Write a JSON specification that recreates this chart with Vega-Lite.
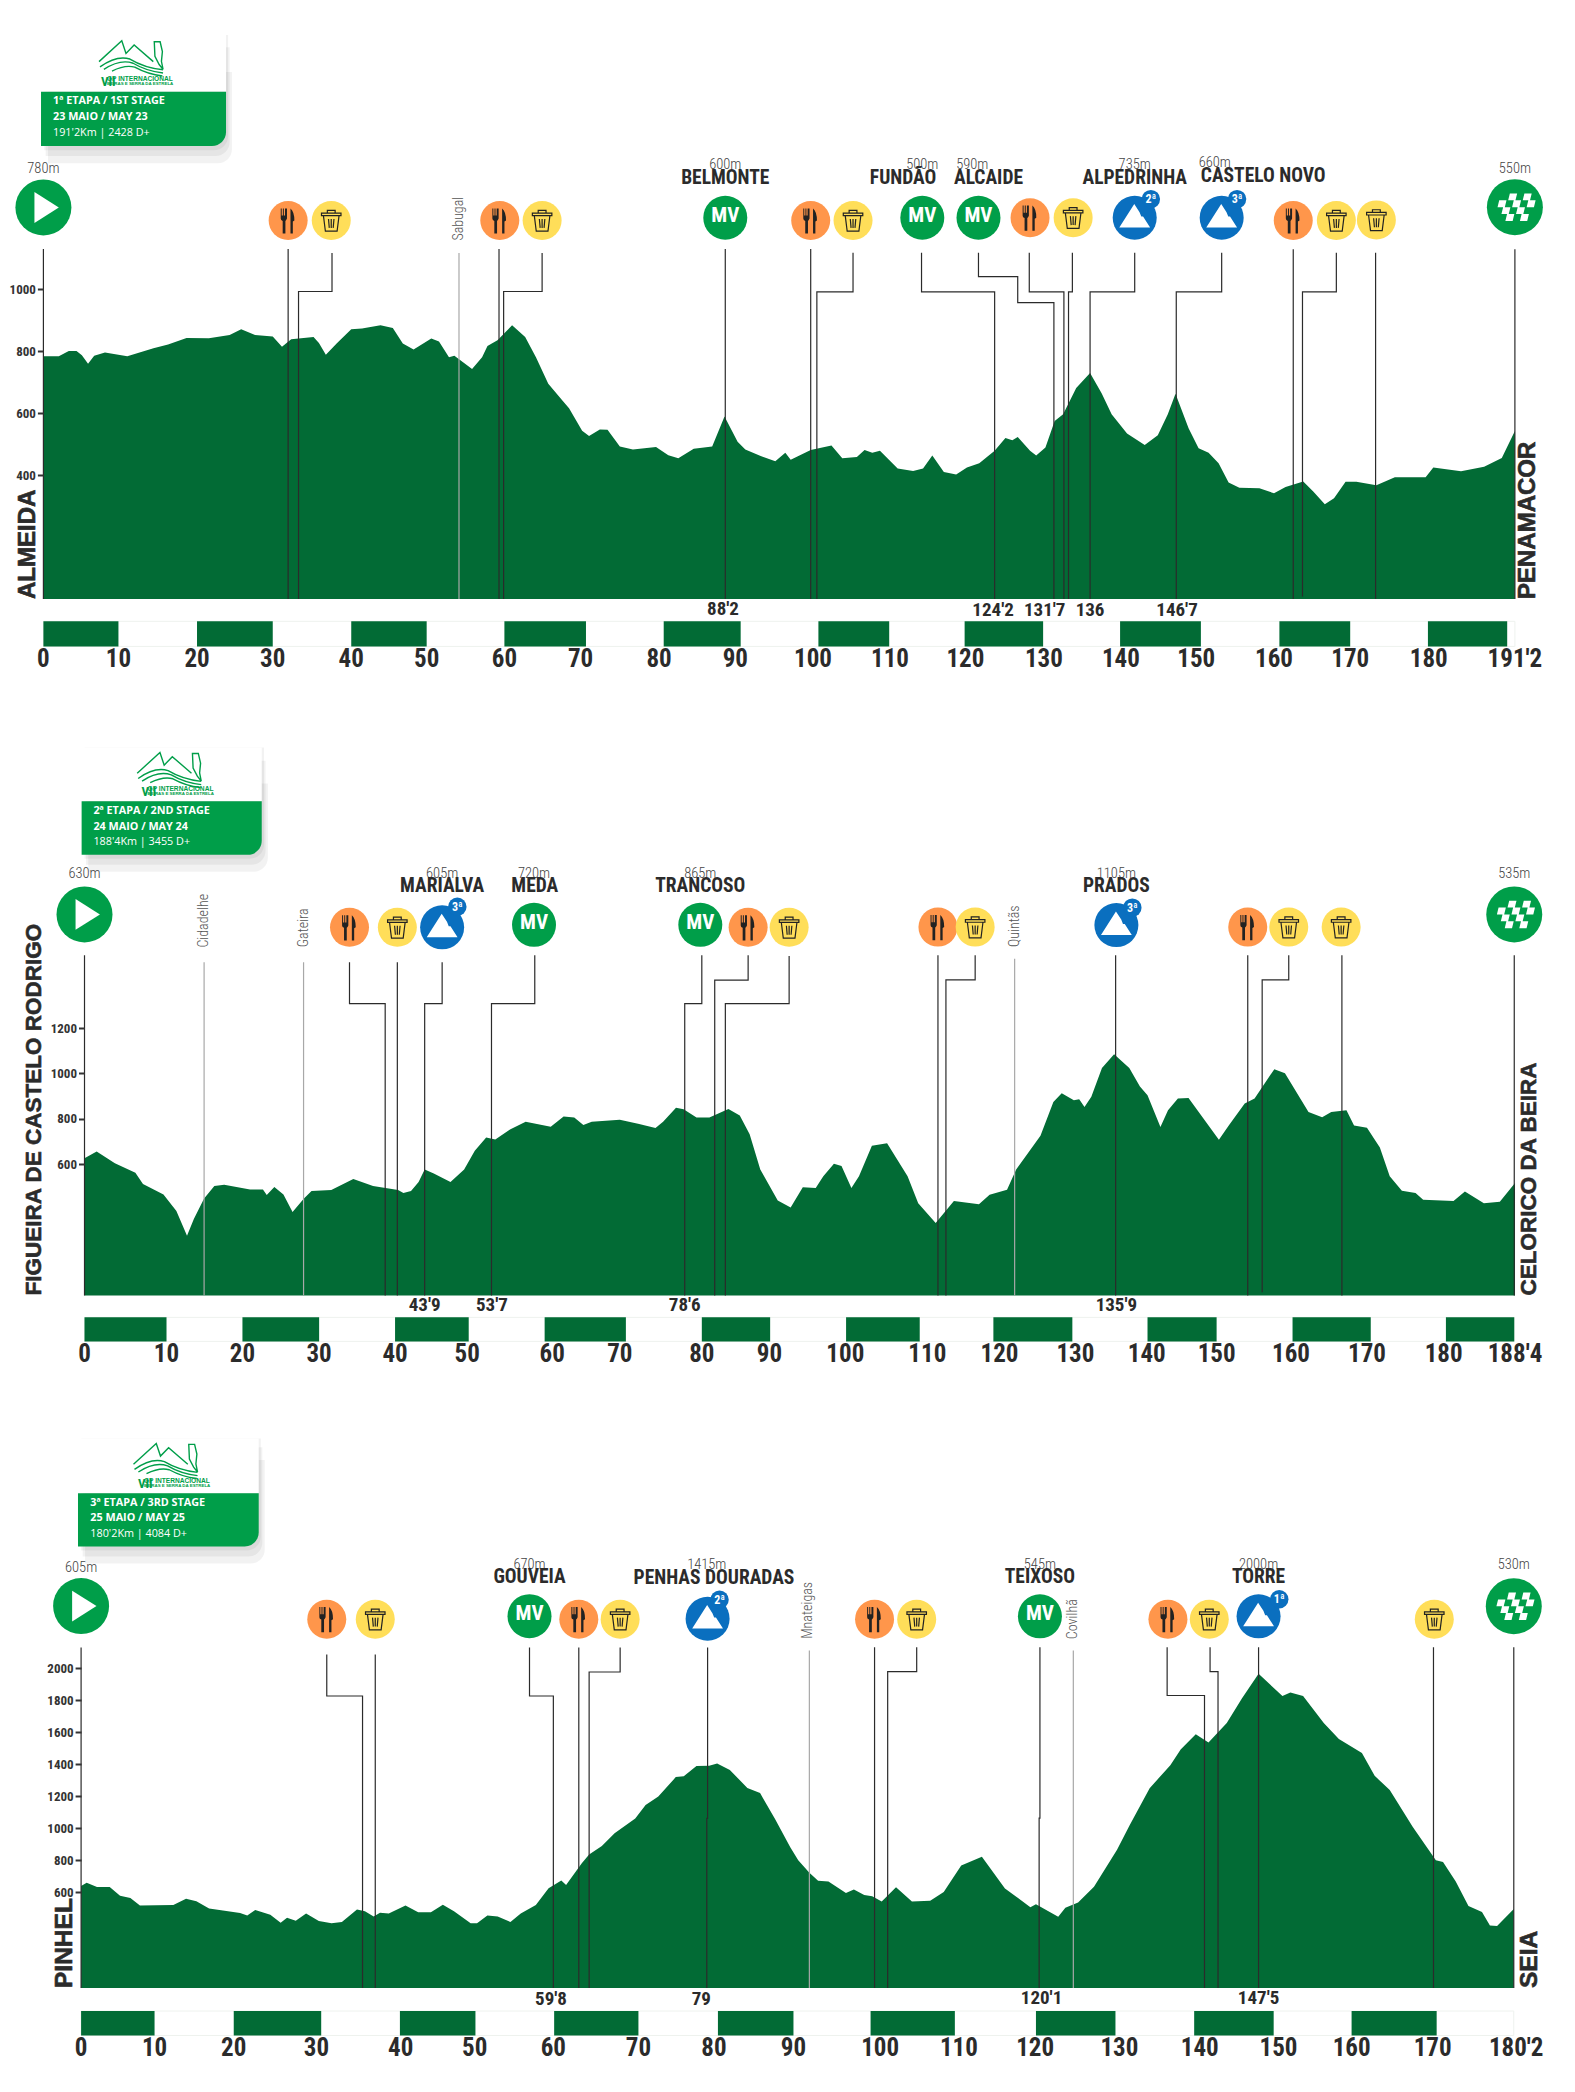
{"$schema":"https://vega.github.io/schema/vega-lite/v6.json","padding":0,"bounds":"flush","spacing":0,"config":{"view":{"stroke":null},"concat":{"spacing":0}},
"datasets":{
"p1":[{"km":0,"alt":783},{"km":2,"alt":783},{"km":3.3,"alt":800},{"km":4.3,"alt":800},{"km":5,"alt":786},{"km":5.8,"alt":759},{"km":6.6,"alt":785},{"km":8,"alt":795},{"km":10.9,"alt":783},{"km":14.3,"alt":809},{"km":16.2,"alt":821},{"km":18.6,"alt":842},{"km":21.5,"alt":841},{"km":24.2,"alt":852},{"km":25.7,"alt":870},{"km":27.5,"alt":852},{"km":29.8,"alt":847},{"km":31,"alt":814},{"km":32.2,"alt":838},{"km":35.1,"alt":845},{"km":35.8,"alt":826},{"km":36.7,"alt":788},{"km":38.1,"alt":824},{"km":40,"alt":870},{"km":41.4,"alt":873},{"km":43.8,"alt":883},{"km":45.4,"alt":874},{"km":46.7,"alt":824},{"km":48.1,"alt":805},{"km":50.4,"alt":840},{"km":51.4,"alt":831},{"km":52.7,"alt":780},{"km":53.4,"alt":785},{"km":55.7,"alt":742},{"km":57,"alt":780},{"km":57.7,"alt":816},{"km":59,"alt":835},{"km":60.9,"alt":883},{"km":62.6,"alt":845},{"km":64,"alt":780},{"km":65.6,"alt":694},{"km":67.3,"alt":644},{"km":68.3,"alt":615},{"km":70,"alt":543},{"km":70.9,"alt":526},{"km":72.3,"alt":547},{"km":73.3,"alt":546},{"km":74.9,"alt":492},{"km":76.6,"alt":482},{"km":79.6,"alt":490},{"km":81.2,"alt":464},{"km":82.5,"alt":454},{"km":84.5,"alt":485},{"km":86.9,"alt":492},{"km":88.5,"alt":589},{"km":90.2,"alt":507},{"km":91.2,"alt":482},{"km":93.2,"alt":461},{"km":95.1,"alt":444},{"km":96.4,"alt":472},{"km":97.1,"alt":449},{"km":99.7,"alt":481},{"km":102.4,"alt":495},{"km":103.8,"alt":454},{"km":105.7,"alt":458},{"km":106.7,"alt":481},{"km":107.7,"alt":472},{"km":108.7,"alt":478},{"km":111,"alt":421},{"km":113,"alt":413},{"km":114.3,"alt":421},{"km":115.5,"alt":463},{"km":117,"alt":410},{"km":118.6,"alt":402},{"km":120,"alt":424},{"km":121.6,"alt":438},{"km":123.6,"alt":478},{"km":125,"alt":519},{"km":125.9,"alt":512},{"km":126.6,"alt":523},{"km":128.2,"alt":478},{"km":129,"alt":463},{"km":130.2,"alt":489},{"km":131.4,"alt":574},{"km":132.5,"alt":596},{"km":134.2,"alt":681},{"km":136,"alt":729},{"km":137.5,"alt":664},{"km":138.8,"alt":596},{"km":140.8,"alt":534},{"km":143.1,"alt":497},{"km":144.8,"alt":528},{"km":146.1,"alt":596},{"km":147.1,"alt":662},{"km":148.8,"alt":551},{"km":150.1,"alt":486},{"km":151.4,"alt":472},{"km":152.7,"alt":438},{"km":154,"alt":376},{"km":155.4,"alt":359},{"km":158,"alt":357},{"km":159.9,"alt":341},{"km":161.4,"alt":361},{"km":163.7,"alt":379},{"km":165,"alt":347},{"km":166.5,"alt":306},{"km":167.7,"alt":325},{"km":169.2,"alt":378},{"km":170.6,"alt":378},{"km":173.2,"alt":367},{"km":175.6,"alt":393},{"km":179.6,"alt":393},{"km":180.6,"alt":424},{"km":184.2,"alt":412},{"km":187.2,"alt":427},{"km":189.5,"alt":455},{"km":191.2,"alt":542}],
"p2":[{"km":0,"alt":626},{"km":1.6,"alt":655},{"km":4,"alt":604},{"km":6.7,"alt":562},{"km":7.7,"alt":512},{"km":10.4,"alt":466},{"km":12.1,"alt":393},{"km":13.5,"alt":283},{"km":14.4,"alt":357},{"km":15.75,"alt":448},{"km":17.1,"alt":503},{"km":18.4,"alt":508},{"km":21.8,"alt":488},{"km":23.5,"alt":488},{"km":24,"alt":463},{"km":25,"alt":499},{"km":26.2,"alt":466},{"km":27.4,"alt":388},{"km":28.9,"alt":448},{"km":29.9,"alt":481},{"km":32.5,"alt":485},{"km":35.4,"alt":534},{"km":38,"alt":503},{"km":41.3,"alt":485},{"km":42,"alt":472},{"km":43,"alt":481},{"km":44,"alt":521},{"km":44.8,"alt":576},{"km":46,"alt":558},{"km":48.2,"alt":521},{"km":50,"alt":576},{"km":51.4,"alt":659},{"km":52.9,"alt":717},{"km":54.1,"alt":708},{"km":56.1,"alt":754},{"km":58.1,"alt":787},{"km":61.4,"alt":765},{"km":63.1,"alt":810},{"km":64.5,"alt":805},{"km":65.7,"alt":772},{"km":66.8,"alt":787},{"km":70.5,"alt":796},{"km":72.9,"alt":778},{"km":75.2,"alt":759},{"km":76.2,"alt":787},{"km":77.9,"alt":849},{"km":78.9,"alt":842},{"km":80.6,"alt":805},{"km":82.3,"alt":805},{"km":84.8,"alt":843},{"km":86.3,"alt":814},{"km":87.6,"alt":732},{"km":89,"alt":576},{"km":91.3,"alt":439},{"km":93,"alt":408},{"km":94.6,"alt":498},{"km":96.3,"alt":494},{"km":97.3,"alt":546},{"km":98.7,"alt":601},{"km":99.7,"alt":591},{"km":101,"alt":494},{"km":102,"alt":546},{"km":103.7,"alt":681},{"km":105.7,"alt":692},{"km":108.4,"alt":546},{"km":109.8,"alt":427},{"km":112.1,"alt":340},{"km":114.5,"alt":437},{"km":117.8,"alt":422},{"km":119.2,"alt":464},{"km":121.5,"alt":487},{"km":122.7,"alt":576},{"km":125.9,"alt":725},{"km":127.6,"alt":874},{"km":128.7,"alt":912},{"km":130.3,"alt":882},{"km":131,"alt":886},{"km":131.7,"alt":852},{"km":132.6,"alt":897},{"km":134,"alt":1024},{"km":135.6,"alt":1085},{"km":137.6,"alt":1024},{"km":139,"alt":942},{"km":140,"alt":904},{"km":141.7,"alt":763},{"km":142.7,"alt":837},{"km":144,"alt":889},{"km":145.4,"alt":892},{"km":149.4,"alt":707},{"km":150.7,"alt":770},{"km":152.8,"alt":867},{"km":154.1,"alt":889},{"km":156.7,"alt":1019},{"km":158.1,"alt":1001},{"km":161.2,"alt":830},{"km":163,"alt":807},{"km":164.2,"alt":830},{"km":166.2,"alt":837},{"km":167.2,"alt":770},{"km":168.9,"alt":760},{"km":170.6,"alt":673},{"km":171.9,"alt":546},{"km":173.5,"alt":482},{"km":175.3,"alt":472},{"km":176.3,"alt":442},{"km":180.3,"alt":437},{"km":181.8,"alt":479},{"km":184.3,"alt":427},{"km":186.4,"alt":434},{"km":188.4,"alt":516}],
"p3":[{"km":0,"alt":637},{"km":0.7,"alt":658},{"km":2,"alt":632},{"km":3.6,"alt":632},{"km":4.9,"alt":577},{"km":6.2,"alt":563},{"km":7.4,"alt":516},{"km":11.6,"alt":519},{"km":13.2,"alt":558},{"km":14.5,"alt":542},{"km":16.1,"alt":497},{"km":20,"alt":468},{"km":20.9,"alt":453},{"km":21.9,"alt":487},{"km":23.8,"alt":458},{"km":25.1,"alt":408},{"km":25.9,"alt":439},{"km":27,"alt":421},{"km":28.3,"alt":466},{"km":29.9,"alt":418},{"km":31.5,"alt":405},{"km":32.8,"alt":413},{"km":34.7,"alt":490},{"km":35.7,"alt":479},{"km":36.8,"alt":447},{"km":37.6,"alt":471},{"km":38.7,"alt":466},{"km":40.8,"alt":516},{"km":42.4,"alt":474},{"km":44,"alt":474},{"km":45.5,"alt":521},{"km":46.9,"alt":479},{"km":49,"alt":405},{"km":49.8,"alt":405},{"km":51.1,"alt":453},{"km":52.4,"alt":447},{"km":54,"alt":413},{"km":55.3,"alt":466},{"km":57.2,"alt":519},{"km":58.8,"alt":624},{"km":60.4,"alt":672},{"km":61,"alt":643},{"km":63,"alt":782},{"km":63.9,"alt":835},{"km":65.5,"alt":888},{"km":67.1,"alt":967},{"km":69.7,"alt":1060},{"km":71,"alt":1144},{"km":72.6,"alt":1197},{"km":74.8,"alt":1318},{"km":75.8,"alt":1323},{"km":77.4,"alt":1387},{"km":79,"alt":1389},{"km":80,"alt":1403},{"km":81.6,"alt":1363},{"km":83.8,"alt":1250},{"km":85.4,"alt":1218},{"km":87.3,"alt":1055},{"km":89.2,"alt":880},{"km":90.2,"alt":798},{"km":91.6,"alt":721},{"km":92.7,"alt":670},{"km":94,"alt":666},{"km":96.2,"alt":593},{"km":97.2,"alt":615},{"km":98.5,"alt":582},{"km":99.5,"alt":574},{"km":100.7,"alt":541},{"km":102.5,"alt":629},{"km":104.5,"alt":541},{"km":106.8,"alt":545},{"km":108.5,"alt":600},{"km":110.7,"alt":765},{"km":113.3,"alt":820},{"km":116.2,"alt":622},{"km":119.4,"alt":505},{"km":120.1,"alt":523},{"km":122.9,"alt":446},{"km":123.8,"alt":501},{"km":125.4,"alt":534},{"km":127.4,"alt":633},{"km":130.3,"alt":864},{"km":131.9,"alt":1018},{"km":134.4,"alt":1249},{"km":137,"alt":1392},{"km":138.3,"alt":1491},{"km":140.2,"alt":1586},{"km":141.8,"alt":1535},{"km":144.1,"alt":1656},{"km":146,"alt":1810},{"km":148.1,"alt":1964},{"km":151.1,"alt":1825},{"km":152.1,"alt":1847},{"km":153.7,"alt":1825},{"km":156.3,"alt":1656},{"km":158.2,"alt":1557},{"km":161.1,"alt":1469},{"km":162.7,"alt":1326},{"km":164.6,"alt":1238},{"km":167.5,"alt":1007},{"km":170.4,"alt":798},{"km":171.3,"alt":787},{"km":172.9,"alt":666},{"km":174.5,"alt":512},{"km":176.2,"alt":475},{"km":177.2,"alt":391},{"km":178.1,"alt":387},{"km":180.2,"alt":494}],
"l1":[{"id":1,"o":1,"k":"d","km":0,"alt":1129},{"id":1,"o":2,"k":"d","km":0,"alt":0},{"id":2,"o":1,"k":"d","km":31.8,"alt":1129},{"id":2,"o":2,"k":"d","km":31.8,"alt":0},{"id":3,"o":1,"k":"d","km":37.5,"alt":1116},{"id":3,"o":2,"k":"d","km":37.5,"alt":992},{"id":3,"o":3,"k":"d","km":33.15,"alt":992},{"id":3,"o":4,"k":"d","km":33.15,"alt":0},{"id":4,"o":1,"k":"g","km":54,"alt":1116},{"id":4,"o":2,"k":"g","km":54,"alt":0},{"id":5,"o":1,"k":"d","km":59.2,"alt":1129},{"id":5,"o":2,"k":"d","km":59.2,"alt":0},{"id":6,"o":1,"k":"d","km":64.8,"alt":1116},{"id":6,"o":2,"k":"d","km":64.8,"alt":992},{"id":6,"o":3,"k":"d","km":59.8,"alt":992},{"id":6,"o":4,"k":"d","km":59.8,"alt":0},{"id":7,"o":1,"k":"d","km":88.6,"alt":1129},{"id":7,"o":2,"k":"d","km":88.6,"alt":0},{"id":8,"o":1,"k":"d","km":99.7,"alt":1129},{"id":8,"o":2,"k":"d","km":99.7,"alt":0},{"id":9,"o":1,"k":"d","km":105.2,"alt":1117},{"id":9,"o":2,"k":"d","km":105.2,"alt":991},{"id":9,"o":3,"k":"d","km":100.5,"alt":991},{"id":9,"o":4,"k":"d","km":100.5,"alt":0},{"id":10,"o":1,"k":"d","km":114.1,"alt":1117},{"id":10,"o":2,"k":"d","km":114.1,"alt":991},{"id":10,"o":3,"k":"d","km":123.6,"alt":991},{"id":10,"o":4,"k":"d","km":123.6,"alt":0},{"id":11,"o":1,"k":"d","km":121.5,"alt":1117},{"id":11,"o":2,"k":"d","km":121.5,"alt":1040},{"id":11,"o":3,"k":"d","km":126.6,"alt":1040},{"id":11,"o":4,"k":"d","km":126.6,"alt":956},{"id":11,"o":5,"k":"d","km":131.3,"alt":956},{"id":11,"o":6,"k":"d","km":131.3,"alt":0},{"id":12,"o":1,"k":"d","km":128.1,"alt":1117},{"id":12,"o":2,"k":"d","km":128.1,"alt":991},{"id":12,"o":3,"k":"d","km":132.6,"alt":991},{"id":12,"o":4,"k":"d","km":132.6,"alt":0},{"id":13,"o":1,"k":"d","km":133.7,"alt":1117},{"id":13,"o":2,"k":"d","km":133.7,"alt":991},{"id":13,"o":3,"k":"d","km":133.2,"alt":991},{"id":13,"o":4,"k":"d","km":133.2,"alt":0},{"id":14,"o":1,"k":"d","km":141.8,"alt":1117},{"id":14,"o":2,"k":"d","km":141.8,"alt":991},{"id":14,"o":3,"k":"d","km":136,"alt":991},{"id":14,"o":4,"k":"d","km":136,"alt":0},{"id":15,"o":1,"k":"d","km":153.1,"alt":1117},{"id":15,"o":2,"k":"d","km":153.1,"alt":991},{"id":15,"o":3,"k":"d","km":147.2,"alt":991},{"id":15,"o":4,"k":"d","km":147.2,"alt":0},{"id":16,"o":1,"k":"d","km":162.4,"alt":1128},{"id":16,"o":2,"k":"d","km":162.4,"alt":0},{"id":17,"o":1,"k":"d","km":168,"alt":1117},{"id":17,"o":2,"k":"d","km":168,"alt":991},{"id":17,"o":3,"k":"d","km":163.6,"alt":991},{"id":17,"o":4,"k":"d","km":163.6,"alt":8},{"id":18,"o":1,"k":"d","km":173.1,"alt":1117},{"id":18,"o":2,"k":"d","km":173.1,"alt":0},{"id":19,"o":1,"k":"d","km":191.2,"alt":1128},{"id":19,"o":2,"k":"d","km":191.2,"alt":0}],
"l2":[{"id":1,"o":1,"k":"d","km":0,"alt":1522},{"id":1,"o":2,"k":"d","km":0,"alt":20},{"id":2,"o":1,"k":"g","km":15.75,"alt":1491},{"id":2,"o":2,"k":"g","km":15.75,"alt":20},{"id":3,"o":1,"k":"g","km":28.85,"alt":1491},{"id":3,"o":2,"k":"g","km":28.85,"alt":20},{"id":4,"o":1,"k":"d","km":34.9,"alt":1491},{"id":4,"o":2,"k":"d","km":34.9,"alt":1308},{"id":4,"o":3,"k":"d","km":39.6,"alt":1308},{"id":4,"o":4,"k":"d","km":39.6,"alt":20},{"id":5,"o":1,"k":"d","km":41.2,"alt":1491},{"id":5,"o":2,"k":"d","km":41.2,"alt":20},{"id":6,"o":1,"k":"d","km":47.1,"alt":1491},{"id":6,"o":2,"k":"d","km":47.1,"alt":1308},{"id":6,"o":3,"k":"d","km":44.8,"alt":1308},{"id":6,"o":4,"k":"d","km":44.8,"alt":20},{"id":7,"o":1,"k":"d","km":59.3,"alt":1522},{"id":7,"o":2,"k":"d","km":59.3,"alt":1308},{"id":7,"o":3,"k":"d","km":53.6,"alt":1308},{"id":7,"o":4,"k":"d","km":53.6,"alt":20},{"id":8,"o":1,"k":"d","km":81.3,"alt":1522},{"id":8,"o":2,"k":"d","km":81.3,"alt":1308},{"id":8,"o":3,"k":"d","km":79.05,"alt":1308},{"id":8,"o":4,"k":"d","km":79.05,"alt":20},{"id":9,"o":1,"k":"d","km":87.4,"alt":1522},{"id":9,"o":2,"k":"d","km":87.4,"alt":1412},{"id":9,"o":3,"k":"d","km":83,"alt":1412},{"id":9,"o":4,"k":"d","km":83,"alt":20},{"id":10,"o":1,"k":"d","km":92.8,"alt":1519},{"id":10,"o":2,"k":"d","km":92.8,"alt":1308},{"id":10,"o":3,"k":"d","km":84.4,"alt":1308},{"id":10,"o":4,"k":"d","km":84.4,"alt":20},{"id":11,"o":1,"k":"d","km":112.4,"alt":1522},{"id":11,"o":2,"k":"d","km":112.4,"alt":20},{"id":12,"o":1,"k":"d","km":117.3,"alt":1522},{"id":12,"o":2,"k":"d","km":117.3,"alt":1413},{"id":12,"o":3,"k":"d","km":113.45,"alt":1413},{"id":12,"o":4,"k":"d","km":113.45,"alt":20},{"id":13,"o":1,"k":"g","km":122.5,"alt":1506},{"id":13,"o":2,"k":"g","km":122.5,"alt":20},{"id":14,"o":1,"k":"d","km":135.8,"alt":1522},{"id":14,"o":2,"k":"d","km":135.8,"alt":20},{"id":15,"o":1,"k":"d","km":153.2,"alt":1522},{"id":15,"o":2,"k":"d","km":153.2,"alt":20},{"id":16,"o":1,"k":"d","km":158.6,"alt":1522},{"id":16,"o":2,"k":"d","km":158.6,"alt":1413},{"id":16,"o":3,"k":"d","km":155.1,"alt":1413},{"id":16,"o":4,"k":"d","km":155.1,"alt":34},{"id":17,"o":1,"k":"d","km":165.6,"alt":1522},{"id":17,"o":2,"k":"d","km":165.6,"alt":20},{"id":18,"o":1,"k":"d","km":188.3,"alt":1522},{"id":18,"o":2,"k":"d","km":188.3,"alt":20}],
"l3":[{"id":1,"o":1,"k":"d","km":0,"alt":2128},{"id":1,"o":2,"k":"d","km":0,"alt":0},{"id":2,"o":1,"k":"d","km":30.9,"alt":2084},{"id":2,"o":2,"k":"d","km":30.9,"alt":1825},{"id":2,"o":3,"k":"d","km":35.4,"alt":1825},{"id":2,"o":4,"k":"d","km":35.4,"alt":0},{"id":3,"o":1,"k":"d","km":37,"alt":2084},{"id":3,"o":2,"k":"d","km":37,"alt":0},{"id":4,"o":1,"k":"d","km":56.4,"alt":2128},{"id":4,"o":2,"k":"d","km":56.4,"alt":1825},{"id":4,"o":3,"k":"d","km":59.4,"alt":1825},{"id":4,"o":4,"k":"d","km":59.4,"alt":0},{"id":5,"o":1,"k":"d","km":62.6,"alt":2128},{"id":5,"o":2,"k":"d","km":62.6,"alt":0},{"id":6,"o":1,"k":"d","km":67.8,"alt":2128},{"id":6,"o":2,"k":"d","km":67.8,"alt":1975},{"id":6,"o":3,"k":"d","km":63.9,"alt":1975},{"id":6,"o":4,"k":"d","km":63.9,"alt":0},{"id":7,"o":1,"k":"d","km":78.8,"alt":2128},{"id":7,"o":2,"k":"d","km":78.8,"alt":1060},{"id":7,"o":3,"k":"d","km":78.7,"alt":1060},{"id":7,"o":4,"k":"d","km":78.7,"alt":0},{"id":8,"o":1,"k":"g","km":91.6,"alt":2109},{"id":8,"o":2,"k":"g","km":91.6,"alt":0},{"id":9,"o":1,"k":"d","km":99.8,"alt":2129},{"id":9,"o":2,"k":"d","km":99.8,"alt":0},{"id":10,"o":1,"k":"d","km":105.1,"alt":2129},{"id":10,"o":2,"k":"d","km":105.1,"alt":1977},{"id":10,"o":3,"k":"d","km":101.45,"alt":1977},{"id":10,"o":4,"k":"d","km":101.45,"alt":0},{"id":11,"o":1,"k":"d","km":120.6,"alt":2129},{"id":11,"o":2,"k":"d","km":120.6,"alt":1062},{"id":11,"o":3,"k":"d","km":120.5,"alt":1062},{"id":11,"o":4,"k":"d","km":120.5,"alt":0},{"id":12,"o":1,"k":"g","km":124.8,"alt":2109},{"id":12,"o":2,"k":"g","km":124.8,"alt":0},{"id":13,"o":1,"k":"d","km":136.6,"alt":2129},{"id":13,"o":2,"k":"d","km":136.6,"alt":1828},{"id":13,"o":3,"k":"d","km":141.3,"alt":1828},{"id":13,"o":4,"k":"d","km":141.3,"alt":0},{"id":14,"o":1,"k":"d","km":142,"alt":2129},{"id":14,"o":2,"k":"d","km":142,"alt":1977},{"id":14,"o":3,"k":"d","km":143,"alt":1977},{"id":14,"o":4,"k":"d","km":143,"alt":0},{"id":15,"o":1,"k":"d","km":148.1,"alt":2129},{"id":15,"o":2,"k":"d","km":148.1,"alt":0},{"id":16,"o":1,"k":"d","km":170.1,"alt":2129},{"id":16,"o":2,"k":"d","km":170.1,"alt":0},{"id":17,"o":1,"k":"d","km":180.2,"alt":2129},{"id":17,"o":2,"k":"d","km":180.2,"alt":0}],
"a1":[{"t":"sh","km":0.1,"km2":24,"alt":1819,"alt2":1448},{"t":"sh","km":0.3,"km2":24.2,"alt":1780,"alt2":1429},{"t":"sh","km":0.6,"km2":24.5,"alt":1700,"alt2":1406},{"t":"cw","km":-0.31,"km2":23.73,"alt":1819,"alt2":1636},{"t":"cg","km":-0.31,"km2":23.73,"alt":1636,"alt2":1461},
{"t":"c1","km":1.25,"alt":1607,"s":"1ª ETAPA / 1ST STAGE"},{"t":"c1","km":1.25,"alt":1556,"s":"23 MAIO / MAY 23"},{"t":"c2","km":1.25,"alt":1503,"s":"191'2Km | 2428 D+"},
{"t":"logo","km":11.45,"alt":1745},{"t":"vii","km":7.48,"alt":1668,"s":"VII"},{"t":"gp","km":8.26,"alt":1676,"s":"GP INTERNACIONAL"},{"t":"be","km":8.26,"alt":1661,"s":"BEIRAS E SERRA DA ESTRELA"},
{"t":"band","km":0,"km2":191.2,"alt":-72,"alt2":-153},
{"t":"bar","km":0,"km2":9.75,"alt":-72,"alt2":-153},{"t":"bar","km":19.96,"km2":29.8,"alt":-72,"alt2":-153},{"t":"bar","km":40,"km2":49.8,"alt":-72,"alt2":-153},{"t":"bar","km":59.9,"km2":70.5,"alt":-72,"alt2":-153},{"t":"bar","km":80.6,"km2":90.6,"alt":-72,"alt2":-153},{"t":"bar","km":100.7,"km2":109.9,"alt":-72,"alt2":-153},{"t":"bar","km":119.7,"km2":129.9,"alt":-72,"alt2":-153},{"t":"bar","km":139.9,"km2":150.4,"alt":-72,"alt2":-153},{"t":"bar","km":160.6,"km2":169.8,"alt":-72,"alt2":-153},{"t":"bar","km":179.9,"km2":190.2,"alt":-72,"alt2":-153},
{"t":"tick","km":0,"alt":-194,"s":"0"},{"t":"tick","km":9.75,"alt":-194,"s":"10"},{"t":"tick","km":19.96,"alt":-194,"s":"20"},{"t":"tick","km":29.8,"alt":-194,"s":"30"},{"t":"tick","km":40,"alt":-194,"s":"40"},{"t":"tick","km":49.8,"alt":-194,"s":"50"},{"t":"tick","km":59.9,"alt":-194,"s":"60"},{"t":"tick","km":69.8,"alt":-194,"s":"70"},{"t":"tick","km":80,"alt":-194,"s":"80"},{"t":"tick","km":89.9,"alt":-194,"s":"90"},{"t":"tick","km":100,"alt":-194,"s":"100"},{"t":"tick","km":110,"alt":-194,"s":"110"},{"t":"tick","km":119.8,"alt":-194,"s":"120"},{"t":"tick","km":130,"alt":-194,"s":"130"},{"t":"tick","km":140,"alt":-194,"s":"140"},{"t":"tick","km":149.8,"alt":-194,"s":"150"},{"t":"tick","km":159.9,"alt":-194,"s":"160"},{"t":"tick","km":169.8,"alt":-194,"s":"170"},{"t":"tick","km":180,"alt":-194,"s":"180"},{"t":"tick","km":191.2,"alt":-194,"s":"191'2"},
{"t":"mark","km":88.3,"alt":-33,"s":"88'2"},{"t":"mark","km":123.4,"alt":-34,"s":"124'2"},{"t":"mark","km":130.1,"alt":-34,"s":"131'7"},{"t":"mark","km":136,"alt":-34,"s":"136"},{"t":"mark","km":147.3,"alt":-34,"s":"146'7"},
{"t":"altl","km":0,"alt":1388,"s":"780m"},{"t":"altl","km":88.6,"alt":1400,"s":"600m"},{"t":"altl","km":114.2,"alt":1400,"s":"500m"},{"t":"altl","km":120.7,"alt":1400,"s":"590m"},{"t":"altl","km":141.8,"alt":1400,"s":"735m"},{"t":"altl","km":152.2,"alt":1405,"s":"660m"},{"t":"altl","km":191.2,"alt":1388,"s":"550m"},
{"t":"place","km":88.6,"alt":1359,"s":"BELMONTE"},{"t":"place","km":111.7,"alt":1359,"s":"FUNDÃO"},{"t":"place","km":122.8,"alt":1359,"s":"ALCAIDE"},{"t":"place","km":141.8,"alt":1359,"s":"ALPEDRINHA"},{"t":"place","km":158.5,"alt":1366,"s":"CASTELO NOVO"},
{"t":"rot","km":54,"alt":1227,"s":"Sabugal"},
{"t":"end","km":-2.0,"alt":0,"s":"ALMEIDA"},{"t":"end","km":192.9,"alt":0,"s":"PENAMACOR"},
{"t":"fork","km":31.8,"alt":1221},{"t":"bin","km":37.4,"alt":1221},{"t":"fork","km":59.3,"alt":1221},{"t":"bin","km":64.8,"alt":1221},{"t":"mv","km":88.6,"alt":1230},{"t":"fork","km":99.7,"alt":1221},{"t":"bin","km":105.2,"alt":1221},{"t":"mv","km":114.2,"alt":1230},{"t":"mv","km":121.5,"alt":1230},{"t":"fork","km":128.2,"alt":1230},{"t":"bin","km":133.8,"alt":1230},{"t":"kom","km":141.8,"alt":1230},{"t":"kom","km":153.1,"alt":1230},{"t":"fork","km":162.4,"alt":1221},{"t":"bin","km":168,"alt":1221},{"t":"bin","km":173.2,"alt":1223},{"t":"start","km":0,"alt":1263},{"t":"finish","km":191.2,"alt":1264},{"t":"badge","km":143.9,"alt":1290,"s":"2ª"},{"t":"badge","km":155.1,"alt":1290,"s":"3ª"}],
"a2":[{"t":"sh","km":0,"km2":23.64,"alt":2439,"alt2":1948},{"t":"sh","km":0.2,"km2":23.85,"alt":2380,"alt2":1921},{"t":"sh","km":0.5,"km2":24.15,"alt":2280,"alt2":1890},{"t":"cw","km":-0.38,"km2":23.34,"alt":2439,"alt2":2201.5},{"t":"cg","km":-0.38,"km2":23.34,"alt":2201.5,"alt2":1965},
{"t":"c1","km":1.17,"alt":2159.5,"s":"2ª ETAPA / 2ND STAGE"},{"t":"c1","km":1.17,"alt":2090,"s":"24 MAIO / MAY 24"},{"t":"c2","km":1.17,"alt":2020.5,"s":"188'4Km | 3455 D+"},
{"t":"logo","km":11.22,"alt":2341},{"t":"vii","km":7.52,"alt":2244,"s":"VII"},{"t":"gp","km":8.31,"alt":2256,"s":"GP INTERNACIONAL"},{"t":"be","km":8.31,"alt":2235,"s":"BEIRAS E SERRA DA ESTRELA"},
{"t":"band","km":0,"km2":188.3,"alt":-77,"alt2":-183},
{"t":"bar","km":0,"km2":10.8,"alt":-77,"alt2":-183},{"t":"bar","km":20.8,"km2":30.9,"alt":-77,"alt2":-183},{"t":"bar","km":40.9,"km2":50.6,"alt":-77,"alt2":-183},{"t":"bar","km":60.6,"km2":71.3,"alt":-77,"alt2":-183},{"t":"bar","km":81.3,"km2":90.3,"alt":-77,"alt2":-183},{"t":"bar","km":100.3,"km2":110,"alt":-77,"alt2":-183},{"t":"bar","km":119.7,"km2":130.1,"alt":-77,"alt2":-183},{"t":"bar","km":140,"km2":149.1,"alt":-77,"alt2":-183},{"t":"bar","km":159.1,"km2":169.4,"alt":-77,"alt2":-183},{"t":"bar","km":179.3,"km2":188.3,"alt":-77,"alt2":-183},
{"t":"tick","km":0,"alt":-238,"s":"0"},{"t":"tick","km":10.8,"alt":-238,"s":"10"},{"t":"tick","km":20.8,"alt":-238,"s":"20"},{"t":"tick","km":30.9,"alt":-238,"s":"30"},{"t":"tick","km":40.9,"alt":-238,"s":"40"},{"t":"tick","km":50.4,"alt":-238,"s":"50"},{"t":"tick","km":61.6,"alt":-238,"s":"60"},{"t":"tick","km":70.5,"alt":-238,"s":"70"},{"t":"tick","km":81.3,"alt":-238,"s":"80"},{"t":"tick","km":90.2,"alt":-238,"s":"90"},{"t":"tick","km":100.2,"alt":-238,"s":"100"},{"t":"tick","km":111,"alt":-238,"s":"110"},{"t":"tick","km":120.5,"alt":-238,"s":"120"},{"t":"tick","km":130.5,"alt":-238,"s":"130"},{"t":"tick","km":139.9,"alt":-238,"s":"140"},{"t":"tick","km":149.1,"alt":-238,"s":"150"},{"t":"tick","km":158.9,"alt":-238,"s":"160"},{"t":"tick","km":168.9,"alt":-238,"s":"170"},{"t":"tick","km":179,"alt":-238,"s":"180"},{"t":"tick","km":188.4,"alt":-238,"s":"188'4"},
{"t":"mark","km":44.8,"alt":-24,"s":"43'9"},{"t":"mark","km":53.65,"alt":-24,"s":"53'7"},{"t":"mark","km":79.05,"alt":-24,"s":"78'6"},{"t":"mark","km":135.9,"alt":-24,"s":"135'9"},
{"t":"altl","km":0,"alt":1881,"s":"630m"},{"t":"altl","km":47.1,"alt":1881,"s":"605m"},{"t":"altl","km":59.2,"alt":1881,"s":"720m"},{"t":"altl","km":81.1,"alt":1881,"s":"865m"},{"t":"altl","km":135.9,"alt":1882,"s":"1105m"},{"t":"altl","km":188.3,"alt":1879,"s":"535m"},
{"t":"place","km":47.1,"alt":1828,"s":"MARIALVA"},{"t":"place","km":59.3,"alt":1828,"s":"MEDA"},{"t":"place","km":81.1,"alt":1828,"s":"TRANCOSO"},{"t":"place","km":135.9,"alt":1829,"s":"PRADOS"},
{"t":"rot","km":15.75,"alt":1674,"s":"Cidadelhe"},{"t":"rot","km":28.85,"alt":1643,"s":"Gateira"},{"t":"rot","km":122.5,"alt":1650,"s":"Quintãs"},
{"t":"end","km":-6.65,"alt":20,"s":"FIGUEIRA DE CASTELO RODRIGO"},{"t":"end","km":190.3,"alt":20,"s":"CELORICO DA BEIRA"},
{"t":"fork","km":34.9,"alt":1645},{"t":"bin","km":41.2,"alt":1645},{"t":"kom","km":47.1,"alt":1645},{"t":"mv","km":59.2,"alt":1656},{"t":"mv","km":81.1,"alt":1656},{"t":"fork","km":87.4,"alt":1645},{"t":"bin","km":92.8,"alt":1645},{"t":"fork","km":112.4,"alt":1646},{"t":"bin","km":117.3,"alt":1646},{"t":"kom","km":135.9,"alt":1655},{"t":"fork","km":153.2,"alt":1646},{"t":"bin","km":158.6,"alt":1646},{"t":"bin","km":165.5,"alt":1646},{"t":"start","km":0,"alt":1702},{"t":"finish","km":188.3,"alt":1702},{"t":"badge","km":49.1,"alt":1736,"s":"3ª"},{"t":"badge","km":138,"alt":1732,"s":"3ª"}],
"a3":[{"t":"sh","km":0,"km2":22.6,"alt":3435,"alt2":2734},{"t":"sh","km":0.2,"km2":22.8,"alt":3380,"alt2":2697},{"t":"sh","km":0.5,"km2":23.1,"alt":3300,"alt2":2653},{"t":"cw","km":-0.39,"km2":22.34,"alt":3435,"alt2":3092},{"t":"cg","km":-0.39,"km2":22.34,"alt":3092,"alt2":2759},
{"t":"c1","km":1.16,"alt":3034,"s":"3ª ETAPA / 3RD STAGE"},{"t":"c1","km":1.16,"alt":2936,"s":"25 MAIO / MAY 25"},{"t":"c2","km":1.16,"alt":2838,"s":"180'2Km | 4084 D+"},
{"t":"logo","km":10.68,"alt":3296},{"t":"vii","km":7.16,"alt":3153,"s":"VII"},{"t":"gp","km":7.91,"alt":3169,"s":"GP INTERNACIONAL"},{"t":"be","km":7.91,"alt":3140,"s":"BEIRAS E SERRA DA ESTRELA"},
{"t":"band","km":0,"km2":180.2,"alt":-144,"alt2":-297},
{"t":"bar","km":0,"km2":9.24,"alt":-144,"alt2":-297},{"t":"bar","km":19.2,"km2":30.2,"alt":-144,"alt2":-297},{"t":"bar","km":40.1,"km2":49.6,"alt":-144,"alt2":-297},{"t":"bar","km":59.5,"km2":70.1,"alt":-144,"alt2":-297},{"t":"bar","km":80.1,"km2":89.6,"alt":-144,"alt2":-297},{"t":"bar","km":99.3,"km2":109.9,"alt":-144,"alt2":-297},{"t":"bar","km":120.1,"km2":130.1,"alt":-144,"alt2":-297},{"t":"bar","km":140,"km2":150,"alt":-144,"alt2":-297},{"t":"bar","km":159.8,"km2":170.5,"alt":-144,"alt2":-297},
{"t":"tick","km":0,"alt":-373,"s":"0"},{"t":"tick","km":9.24,"alt":-373,"s":"10"},{"t":"tick","km":19.2,"alt":-373,"s":"20"},{"t":"tick","km":29.6,"alt":-373,"s":"30"},{"t":"tick","km":40.2,"alt":-373,"s":"40"},{"t":"tick","km":49.5,"alt":-373,"s":"50"},{"t":"tick","km":59.4,"alt":-373,"s":"60"},{"t":"tick","km":70.1,"alt":-373,"s":"70"},{"t":"tick","km":79.6,"alt":-373,"s":"80"},{"t":"tick","km":89.6,"alt":-373,"s":"90"},{"t":"tick","km":100.5,"alt":-373,"s":"100"},{"t":"tick","km":110.4,"alt":-373,"s":"110"},{"t":"tick","km":120,"alt":-373,"s":"120"},{"t":"tick","km":130.6,"alt":-373,"s":"130"},{"t":"tick","km":140.7,"alt":-373,"s":"140"},{"t":"tick","km":150.6,"alt":-373,"s":"150"},{"t":"tick","km":159.8,"alt":-373,"s":"160"},{"t":"tick","km":170,"alt":-373,"s":"170"},{"t":"tick","km":180.5,"alt":-373,"s":"180'2"},
{"t":"mark","km":59.1,"alt":-70,"s":"59'8"},{"t":"mark","km":78,"alt":-70,"s":"79"},{"t":"mark","km":120.8,"alt":-64,"s":"120'1"},{"t":"mark","km":148.1,"alt":-64,"s":"147'5"},
{"t":"altl","km":0,"alt":2622,"s":"605m"},{"t":"altl","km":56.4,"alt":2646,"s":"670m"},{"t":"altl","km":78.7,"alt":2646,"s":"1415m"},{"t":"altl","km":120.6,"alt":2646,"s":"545m"},{"t":"altl","km":148.1,"alt":2646,"s":"2000m"},{"t":"altl","km":180.2,"alt":2646,"s":"530m"},
{"t":"place","km":56.4,"alt":2566,"s":"GOUVEIA"},{"t":"place","km":79.6,"alt":2561,"s":"PENHAS DOURADAS"},{"t":"place","km":120.6,"alt":2567,"s":"TEIXOSO"},{"t":"place","km":148.1,"alt":2567,"s":"TORRE"},
{"t":"rot","km":91.4,"alt":2360,"s":"Mnateigas"},{"t":"rot","km":124.7,"alt":2305,"s":"Covilhã"},
{"t":"end","km":-2.0,"alt":0,"s":"PINHEL"},{"t":"end","km":182.2,"alt":0,"s":"SEIA"},
{"t":"fork","km":30.9,"alt":2305},{"t":"bin","km":37,"alt":2305},{"t":"mv","km":56.4,"alt":2324},{"t":"fork","km":62.6,"alt":2305},{"t":"bin","km":67.8,"alt":2305},{"t":"kom","km":78.8,"alt":2308},{"t":"fork","km":99.8,"alt":2305},{"t":"bin","km":105.1,"alt":2305},{"t":"mv","km":120.6,"alt":2323},{"t":"fork","km":136.7,"alt":2305},{"t":"bin","km":141.9,"alt":2305},{"t":"kom","km":148.1,"alt":2323},{"t":"bin","km":170.2,"alt":2305},{"t":"start","km":0,"alt":2387},{"t":"finish","km":180.2,"alt":2386},{"t":"badge","km":80.3,"alt":2427,"s":"2ª"},{"t":"badge","km":150.7,"alt":2430,"s":"1ª"}]
},
"vconcat":[
{"width":1575,"height":700,"data":{"name":"a1"},
"encoding":{"x":{"field":"km","type":"quantitative","axis":null,"scale":{"domain":[-5.64,199.01],"nice":false,"zero":false}},"y":{"field":"alt","type":"quantitative","scale":{"domain":[-325.8,1932.3],"nice":false,"zero":false},"axis":{"title":null,"values":[400,600,800,1000],"format":"d","offset":-43.4,"domain":false,"grid":false,"tickSize":6,"tickWidth":2,"tickColor":"#333333","labelPadding":2,"labelFont":"Roboto Condensed","labelFontWeight":"bold","labelFontSize":13,"labelColor":"#333333","zindex":1}}},
"layer":[
{"data":{"name":"p1"},"mark":{"type":"area","color":"#026B35"},"encoding":{"y2":{"datum":0}}},
{"transform":[{"filter":"datum.t=='band'"}],"mark":{"type":"rect","fill":"#ffffff","stroke":"#eef2ee","strokeWidth":1},"encoding":{"x2":{"field":"km2"},"y2":{"field":"alt2"}}},
{"transform":[{"filter":"datum.t=='bar'"}],"mark":{"type":"rect","color":"#026B35"},"encoding":{"x2":{"field":"km2"},"y2":{"field":"alt2"}}},
{"transform":[{"filter":"datum.t=='tick'"}],"mark":{"type":"text","font":"Roboto Condensed","fontWeight":"bold","fontSize":25,"color":"#2b2b2b"},"encoding":{"text":{"field":"s"}}},
{"transform":[{"filter":"datum.t=='mark'"}],"mark":{"type":"text","font":"Roboto Condensed","fontWeight":"bold","fontSize":19,"color":"#2b2b2b"},"encoding":{"text":{"field":"s"}}},
{"data":{"name":"l1"},"transform":[{"filter":"datum.k=='g'"}],"mark":{"type":"line","stroke":"#a8a8a8","strokeWidth":1.2},"encoding":{"detail":{"field":"id"},"order":{"field":"o"}}},
{"data":{"name":"l1"},"transform":[{"filter":"datum.k=='d'"}],"mark":{"type":"line","stroke":"#2b2b2b","strokeWidth":1.2},"encoding":{"detail":{"field":"id"},"order":{"field":"o"}}},
{"transform":[{"filter":"datum.t=='sh'"}],"mark":{"type":"rect","color":"#000000","opacity":0.05,"cornerRadiusBottomRight":14},"encoding":{"x2":{"field":"km2"},"y2":{"field":"alt2"}}},
{"transform":[{"filter":"datum.t=='cw'"}],"mark":{"type":"rect","color":"#ffffff"},"encoding":{"x2":{"field":"km2"},"y2":{"field":"alt2"}}},
{"transform":[{"filter":"datum.t=='cg'"}],"mark":{"type":"rect","color":"#009E49","cornerRadiusBottomRight":14},"encoding":{"x2":{"field":"km2"},"y2":{"field":"alt2"}}},
{"transform":[{"filter":"datum.t=='c1'"}],"mark":{"type":"text","font":"Open Sans","fontWeight":"bold","fontSize":10.8,"align":"left","color":"#ffffff"},"encoding":{"text":{"field":"s"}}},
{"transform":[{"filter":"datum.t=='c2'"}],"mark":{"type":"text","font":"Open Sans","fontSize":10.8,"align":"left","color":"#ffffff"},"encoding":{"text":{"field":"s"}}},
{"transform":[{"filter":"datum.t=='logo'"}],"mark":{"type":"point","size":4225,"opacity":1,"filled":false,"color":"#009E49","strokeWidth":1.4,"shape":"M-1,.11 L-.3,-.53 L-.17,-.14 L.08,-.4 L.67,.11 M-.97,.27 Q-.45,-.1 -.05,.03 Q.4,.3 .97,.36 M-.85,.35 Q-.35,.02 .05,.16 Q.45,.4 .97,.46 M-.6,.4 Q-.2,.2 .1,.28 Q.5,.5 .95,.55 M.7,-.5 L.88,-.5 L.95,-.2 L.92,.1 L.97,.35 L.85,.2 L.72,-.05 Z"}},
{"transform":[{"filter":"datum.t=='vii'"}],"mark":{"type":"text","font":"Roboto Condensed","fontWeight":"bold","fontSize":13,"align":"left","color":"#009E49"},"encoding":{"text":{"field":"s"}}},
{"transform":[{"filter":"datum.t=='gp'"}],"mark":{"type":"text","font":"Liberation Sans","fontWeight":"bold","fontSize":6.6,"align":"left","color":"#009E49"},"encoding":{"text":{"field":"s"}}},
{"transform":[{"filter":"datum.t=='be'"}],"mark":{"type":"text","font":"Liberation Sans","fontWeight":"bold","fontSize":4.4,"align":"left","color":"#009E49"},"encoding":{"text":{"field":"s"}}},
{"transform":[{"filter":"datum.t=='altl'"}],"mark":{"type":"text","font":"Roboto Condensed","fontWeight":300,"fontSize":14.5,"color":"#444444"},"encoding":{"text":{"field":"s"}}},
{"transform":[{"filter":"datum.t=='place'"}],"mark":{"type":"text","font":"Roboto Condensed","fontWeight":"bold","fontSize":19.5,"color":"#2b2b2b"},"encoding":{"text":{"field":"s"}}},
{"transform":[{"filter":"datum.t=='rot'"}],"mark":{"type":"text","font":"Roboto Condensed","fontWeight":300,"fontSize":14,"angle":270,"color":"#555555"},"encoding":{"text":{"field":"s"}}},
{"transform":[{"filter":"datum.t=='end'"}],"mark":{"type":"text","font":"Liberation Sans","fontWeight":"bold","fontSize":24,"angle":270,"align":"left","baseline":"middle","color":"#2b2b2b","stroke":"#2b2b2b","strokeWidth":0.6},"encoding":{"text":{"field":"s"}}},
{"transform":[{"filter":"indexof(['fork','bin','mv','kom','start','finish','badge'],datum.t)>=0"}],"mark":{"type":"point","shape":"circle","filled":true,"opacity":1,"strokeWidth":0},"encoding":{"color":{"field":"t","type":"nominal","legend":null,"scale":{"domain":["fork","bin","mv","kom","start","finish","badge"],"range":["#FF964B","#FFDE59","#009E49","#0A6FBF","#009E49","#009E49","#0A6FBF"]}},"size":{"field":"t","type":"nominal","legend":null,"scale":{"type":"ordinal","domain":["fork","bin","mv","kom","start","finish","badge"],"range":[1521,1521,1936,1936,3136,3136,340]}}}},
{"transform":[{"filter":"datum.t=='fork'"}],"mark":{"type":"point","size":1521,"opacity":1,"filled":true,"strokeWidth":0,"color":"#222222","shape":"M-.38,-.62 L-.33,-.62 L-.33,-.25 L-.27,-.25 L-.27,-.62 L-.22,-.62 L-.22,-.25 L-.16,-.25 L-.16,-.62 L-.11,-.62 L-.06,-.62 L-.06,-.1 Q-.1,0 -.14,.02 L-.14,.67 L-.28,.67 L-.28,.02 Q-.38,0 -.38,-.1 Z M.12,.67 L.12,-.62 Q.32,-.45 .32,0 L.24,.05 L.24,.67 Z"}},
{"transform":[{"filter":"datum.t=='bin'"}],"mark":{"type":"point","size":1521,"opacity":1,"filled":false,"strokeWidth":1.2,"color":"#222222","shape":"M-.5,-.38 L.5,-.38 L.5,-.25 L-.5,-.25 Z M-.2,-.38 L-.2,-.52 L.2,-.52 L.2,-.38 M-.4,-.25 L-.3,.55 L.3,.55 L.4,-.25 M-.14,-.08 L-.1,.38 M0,-.08 L0,.38 M.14,-.08 L.1,.38"}},
{"transform":[{"filter":"datum.t=='kom'"}],"mark":{"type":"point","size":1936,"opacity":1,"filled":true,"strokeWidth":0,"color":"#ffffff","shape":"M-.7,.45 L-.02,-.62 L.22,-.25 L.3,-.05 L.38,-.05 L.7,.45 Z"}},
{"transform":[{"filter":"datum.t=='start'"}],"mark":{"type":"point","size":3136,"opacity":1,"filled":true,"strokeWidth":0,"color":"#ffffff","shape":"M-.32,-.55 L.55,0 L-.32,.55 Z"}},
{"transform":[{"filter":"datum.t=='finish'"}],"mark":{"type":"point","size":3136,"opacity":1,"filled":true,"strokeWidth":0,"color":"#ffffff","shape":"M-.18,-.49 L.08,-.49 L.02,-.245 L-.24,-.245 Z M.34,-.49 L.6,-.49 L.54,-.245 L.28,-.245 Z M-.56,-.245 L-.3,-.245 L-.36,0 L-.62,0 Z M-.04,-.245 L.22,-.245 L.16,0 L-.1,0 Z M.48,-.245 L.74,-.245 L.68,0 L.42,0 Z M-.42,0 L-.16,0 L-.22,.245 L-.48,.245 Z M.1,0 L.36,0 L.3,.245 L.04,.245 Z M-.28,.245 L-.02,.245 L-.08,.49 L-.34,.49 Z M.24,.245 L.5,.245 L.44,.49 L.18,.49 Z"}},
{"transform":[{"filter":"datum.t=='mv'"}],"mark":{"type":"text","text":"MV","font":"Roboto Condensed","fontWeight":"bold","fontSize":21,"dy":-2,"color":"#ffffff"}},
{"transform":[{"filter":"datum.t=='badge'"}],"mark":{"type":"text","font":"Roboto Condensed","fontWeight":"bold","fontSize":12,"color":"#ffffff"},"encoding":{"text":{"field":"s"}}}
]},
{"width":1575,"height":700,"data":{"name":"a2"},
"encoding":{"x":{"field":"km","type":"quantitative","axis":null,"scale":{"domain":[-11.13,196.3],"nice":false,"zero":false}},"y":{"field":"alt","type":"quantitative","scale":{"domain":[-441.8,2648.7],"nice":false,"zero":false},"axis":{"title":null,"values":[600,800,1000,1200],"format":"d","offset":-84.5,"domain":false,"grid":false,"tickSize":6,"tickWidth":2,"tickColor":"#333333","labelPadding":2,"labelFont":"Roboto Condensed","labelFontWeight":"bold","labelFontSize":13,"labelColor":"#333333","zindex":1}}},
"layer":[
{"data":{"name":"p2"},"mark":{"type":"area","color":"#026B35"},"encoding":{"y2":{"datum":20}}},
{"transform":[{"filter":"datum.t=='band'"}],"mark":{"type":"rect","fill":"#ffffff","stroke":"#eef2ee","strokeWidth":1},"encoding":{"x2":{"field":"km2"},"y2":{"field":"alt2"}}},
{"transform":[{"filter":"datum.t=='bar'"}],"mark":{"type":"rect","color":"#026B35"},"encoding":{"x2":{"field":"km2"},"y2":{"field":"alt2"}}},
{"transform":[{"filter":"datum.t=='tick'"}],"mark":{"type":"text","font":"Roboto Condensed","fontWeight":"bold","fontSize":25,"color":"#2b2b2b"},"encoding":{"text":{"field":"s"}}},
{"transform":[{"filter":"datum.t=='mark'"}],"mark":{"type":"text","font":"Roboto Condensed","fontWeight":"bold","fontSize":19,"color":"#2b2b2b"},"encoding":{"text":{"field":"s"}}},
{"data":{"name":"l2"},"transform":[{"filter":"datum.k=='g'"}],"mark":{"type":"line","stroke":"#a8a8a8","strokeWidth":1.2},"encoding":{"detail":{"field":"id"},"order":{"field":"o"}}},
{"data":{"name":"l2"},"transform":[{"filter":"datum.k=='d'"}],"mark":{"type":"line","stroke":"#2b2b2b","strokeWidth":1.2},"encoding":{"detail":{"field":"id"},"order":{"field":"o"}}},
{"transform":[{"filter":"datum.t=='sh'"}],"mark":{"type":"rect","color":"#000000","opacity":0.05,"cornerRadiusBottomRight":14},"encoding":{"x2":{"field":"km2"},"y2":{"field":"alt2"}}},
{"transform":[{"filter":"datum.t=='cw'"}],"mark":{"type":"rect","color":"#ffffff"},"encoding":{"x2":{"field":"km2"},"y2":{"field":"alt2"}}},
{"transform":[{"filter":"datum.t=='cg'"}],"mark":{"type":"rect","color":"#009E49","cornerRadiusBottomRight":14},"encoding":{"x2":{"field":"km2"},"y2":{"field":"alt2"}}},
{"transform":[{"filter":"datum.t=='c1'"}],"mark":{"type":"text","font":"Open Sans","fontWeight":"bold","fontSize":10.8,"align":"left","color":"#ffffff"},"encoding":{"text":{"field":"s"}}},
{"transform":[{"filter":"datum.t=='c2'"}],"mark":{"type":"text","font":"Open Sans","fontSize":10.8,"align":"left","color":"#ffffff"},"encoding":{"text":{"field":"s"}}},
{"transform":[{"filter":"datum.t=='logo'"}],"mark":{"type":"point","size":4225,"opacity":1,"filled":false,"color":"#009E49","strokeWidth":1.4,"shape":"M-1,.11 L-.3,-.53 L-.17,-.14 L.08,-.4 L.67,.11 M-.97,.27 Q-.45,-.1 -.05,.03 Q.4,.3 .97,.36 M-.85,.35 Q-.35,.02 .05,.16 Q.45,.4 .97,.46 M-.6,.4 Q-.2,.2 .1,.28 Q.5,.5 .95,.55 M.7,-.5 L.88,-.5 L.95,-.2 L.92,.1 L.97,.35 L.85,.2 L.72,-.05 Z"}},
{"transform":[{"filter":"datum.t=='vii'"}],"mark":{"type":"text","font":"Roboto Condensed","fontWeight":"bold","fontSize":13,"align":"left","color":"#009E49"},"encoding":{"text":{"field":"s"}}},
{"transform":[{"filter":"datum.t=='gp'"}],"mark":{"type":"text","font":"Liberation Sans","fontWeight":"bold","fontSize":6.6,"align":"left","color":"#009E49"},"encoding":{"text":{"field":"s"}}},
{"transform":[{"filter":"datum.t=='be'"}],"mark":{"type":"text","font":"Liberation Sans","fontWeight":"bold","fontSize":4.4,"align":"left","color":"#009E49"},"encoding":{"text":{"field":"s"}}},
{"transform":[{"filter":"datum.t=='altl'"}],"mark":{"type":"text","font":"Roboto Condensed","fontWeight":300,"fontSize":14.5,"color":"#444444"},"encoding":{"text":{"field":"s"}}},
{"transform":[{"filter":"datum.t=='place'"}],"mark":{"type":"text","font":"Roboto Condensed","fontWeight":"bold","fontSize":19.5,"color":"#2b2b2b"},"encoding":{"text":{"field":"s"}}},
{"transform":[{"filter":"datum.t=='rot'"}],"mark":{"type":"text","font":"Roboto Condensed","fontWeight":300,"fontSize":14,"angle":270,"color":"#555555"},"encoding":{"text":{"field":"s"}}},
{"transform":[{"filter":"datum.t=='end'"}],"mark":{"type":"text","font":"Liberation Sans","fontWeight":"bold","fontSize":22.5,"angle":270,"align":"left","baseline":"middle","color":"#2b2b2b","stroke":"#2b2b2b","strokeWidth":0.6},"encoding":{"text":{"field":"s"}}},
{"transform":[{"filter":"indexof(['fork','bin','mv','kom','start','finish','badge'],datum.t)>=0"}],"mark":{"type":"point","shape":"circle","filled":true,"opacity":1,"strokeWidth":0},"encoding":{"color":{"field":"t","type":"nominal","legend":null,"scale":{"domain":["fork","bin","mv","kom","start","finish","badge"],"range":["#FF964B","#FFDE59","#009E49","#0A6FBF","#009E49","#009E49","#0A6FBF"]}},"size":{"field":"t","type":"nominal","legend":null,"scale":{"type":"ordinal","domain":["fork","bin","mv","kom","start","finish","badge"],"range":[1521,1521,1936,1936,3136,3136,340]}}}},
{"transform":[{"filter":"datum.t=='fork'"}],"mark":{"type":"point","size":1521,"opacity":1,"filled":true,"strokeWidth":0,"color":"#222222","shape":"M-.38,-.62 L-.33,-.62 L-.33,-.25 L-.27,-.25 L-.27,-.62 L-.22,-.62 L-.22,-.25 L-.16,-.25 L-.16,-.62 L-.11,-.62 L-.06,-.62 L-.06,-.1 Q-.1,0 -.14,.02 L-.14,.67 L-.28,.67 L-.28,.02 Q-.38,0 -.38,-.1 Z M.12,.67 L.12,-.62 Q.32,-.45 .32,0 L.24,.05 L.24,.67 Z"}},
{"transform":[{"filter":"datum.t=='bin'"}],"mark":{"type":"point","size":1521,"opacity":1,"filled":false,"strokeWidth":1.2,"color":"#222222","shape":"M-.5,-.38 L.5,-.38 L.5,-.25 L-.5,-.25 Z M-.2,-.38 L-.2,-.52 L.2,-.52 L.2,-.38 M-.4,-.25 L-.3,.55 L.3,.55 L.4,-.25 M-.14,-.08 L-.1,.38 M0,-.08 L0,.38 M.14,-.08 L.1,.38"}},
{"transform":[{"filter":"datum.t=='kom'"}],"mark":{"type":"point","size":1936,"opacity":1,"filled":true,"strokeWidth":0,"color":"#ffffff","shape":"M-.7,.45 L-.02,-.62 L.22,-.25 L.3,-.05 L.38,-.05 L.7,.45 Z"}},
{"transform":[{"filter":"datum.t=='start'"}],"mark":{"type":"point","size":3136,"opacity":1,"filled":true,"strokeWidth":0,"color":"#ffffff","shape":"M-.32,-.55 L.55,0 L-.32,.55 Z"}},
{"transform":[{"filter":"datum.t=='finish'"}],"mark":{"type":"point","size":3136,"opacity":1,"filled":true,"strokeWidth":0,"color":"#ffffff","shape":"M-.18,-.49 L.08,-.49 L.02,-.245 L-.24,-.245 Z M.34,-.49 L.6,-.49 L.54,-.245 L.28,-.245 Z M-.56,-.245 L-.3,-.245 L-.36,0 L-.62,0 Z M-.04,-.245 L.22,-.245 L.16,0 L-.1,0 Z M.48,-.245 L.74,-.245 L.68,0 L.42,0 Z M-.42,0 L-.16,0 L-.22,.245 L-.48,.245 Z M.1,0 L.36,0 L.3,.245 L.04,.245 Z M-.28,.245 L-.02,.245 L-.08,.49 L-.34,.49 Z M.24,.245 L.5,.245 L.44,.49 L.18,.49 Z"}},
{"transform":[{"filter":"datum.t=='mv'"}],"mark":{"type":"text","text":"MV","font":"Roboto Condensed","fontWeight":"bold","fontSize":21,"dy":-2,"color":"#ffffff"}},
{"transform":[{"filter":"datum.t=='badge'"}],"mark":{"type":"text","font":"Roboto Condensed","fontWeight":"bold","fontSize":12,"color":"#ffffff"},"encoding":{"text":{"field":"s"}}}
]},
{"width":1575,"height":692,"data":{"name":"a3"},
"encoding":{"x":{"field":"km","type":"quantitative","axis":null,"scale":{"domain":[-10.2,187.9],"nice":false,"zero":false}},"y":{"field":"alt","type":"quantitative","scale":{"domain":[-650,3675],"nice":false,"zero":false},"axis":{"title":null,"values":[600,800,1000,1200,1400,1600,1800,2000],"format":"d","offset":-81.1,"domain":false,"grid":false,"tickSize":6,"tickWidth":2,"tickColor":"#333333","labelPadding":2,"labelFont":"Roboto Condensed","labelFontWeight":"bold","labelFontSize":13,"labelColor":"#333333","zindex":1}}},
"layer":[
{"data":{"name":"p3"},"mark":{"type":"area","color":"#026B35"},"encoding":{"y2":{"datum":0}}},
{"transform":[{"filter":"datum.t=='band'"}],"mark":{"type":"rect","fill":"#ffffff","stroke":"#eef2ee","strokeWidth":1},"encoding":{"x2":{"field":"km2"},"y2":{"field":"alt2"}}},
{"transform":[{"filter":"datum.t=='bar'"}],"mark":{"type":"rect","color":"#026B35"},"encoding":{"x2":{"field":"km2"},"y2":{"field":"alt2"}}},
{"transform":[{"filter":"datum.t=='tick'"}],"mark":{"type":"text","font":"Roboto Condensed","fontWeight":"bold","fontSize":25,"color":"#2b2b2b"},"encoding":{"text":{"field":"s"}}},
{"transform":[{"filter":"datum.t=='mark'"}],"mark":{"type":"text","font":"Roboto Condensed","fontWeight":"bold","fontSize":19,"color":"#2b2b2b"},"encoding":{"text":{"field":"s"}}},
{"data":{"name":"l3"},"transform":[{"filter":"datum.k=='g'"}],"mark":{"type":"line","stroke":"#a8a8a8","strokeWidth":1.2},"encoding":{"detail":{"field":"id"},"order":{"field":"o"}}},
{"data":{"name":"l3"},"transform":[{"filter":"datum.k=='d'"}],"mark":{"type":"line","stroke":"#2b2b2b","strokeWidth":1.2},"encoding":{"detail":{"field":"id"},"order":{"field":"o"}}},
{"transform":[{"filter":"datum.t=='sh'"}],"mark":{"type":"rect","color":"#000000","opacity":0.05,"cornerRadiusBottomRight":14},"encoding":{"x2":{"field":"km2"},"y2":{"field":"alt2"}}},
{"transform":[{"filter":"datum.t=='cw'"}],"mark":{"type":"rect","color":"#ffffff"},"encoding":{"x2":{"field":"km2"},"y2":{"field":"alt2"}}},
{"transform":[{"filter":"datum.t=='cg'"}],"mark":{"type":"rect","color":"#009E49","cornerRadiusBottomRight":14},"encoding":{"x2":{"field":"km2"},"y2":{"field":"alt2"}}},
{"transform":[{"filter":"datum.t=='c1'"}],"mark":{"type":"text","font":"Open Sans","fontWeight":"bold","fontSize":10.8,"align":"left","color":"#ffffff"},"encoding":{"text":{"field":"s"}}},
{"transform":[{"filter":"datum.t=='c2'"}],"mark":{"type":"text","font":"Open Sans","fontSize":10.8,"align":"left","color":"#ffffff"},"encoding":{"text":{"field":"s"}}},
{"transform":[{"filter":"datum.t=='logo'"}],"mark":{"type":"point","size":4225,"opacity":1,"filled":false,"color":"#009E49","strokeWidth":1.4,"shape":"M-1,.11 L-.3,-.53 L-.17,-.14 L.08,-.4 L.67,.11 M-.97,.27 Q-.45,-.1 -.05,.03 Q.4,.3 .97,.36 M-.85,.35 Q-.35,.02 .05,.16 Q.45,.4 .97,.46 M-.6,.4 Q-.2,.2 .1,.28 Q.5,.5 .95,.55 M.7,-.5 L.88,-.5 L.95,-.2 L.92,.1 L.97,.35 L.85,.2 L.72,-.05 Z"}},
{"transform":[{"filter":"datum.t=='vii'"}],"mark":{"type":"text","font":"Roboto Condensed","fontWeight":"bold","fontSize":13,"align":"left","color":"#009E49"},"encoding":{"text":{"field":"s"}}},
{"transform":[{"filter":"datum.t=='gp'"}],"mark":{"type":"text","font":"Liberation Sans","fontWeight":"bold","fontSize":6.6,"align":"left","color":"#009E49"},"encoding":{"text":{"field":"s"}}},
{"transform":[{"filter":"datum.t=='be'"}],"mark":{"type":"text","font":"Liberation Sans","fontWeight":"bold","fontSize":4.4,"align":"left","color":"#009E49"},"encoding":{"text":{"field":"s"}}},
{"transform":[{"filter":"datum.t=='altl'"}],"mark":{"type":"text","font":"Roboto Condensed","fontWeight":300,"fontSize":14.5,"color":"#444444"},"encoding":{"text":{"field":"s"}}},
{"transform":[{"filter":"datum.t=='place'"}],"mark":{"type":"text","font":"Roboto Condensed","fontWeight":"bold","fontSize":19.5,"color":"#2b2b2b"},"encoding":{"text":{"field":"s"}}},
{"transform":[{"filter":"datum.t=='rot'"}],"mark":{"type":"text","font":"Roboto Condensed","fontWeight":300,"fontSize":14,"angle":270,"color":"#555555"},"encoding":{"text":{"field":"s"}}},
{"transform":[{"filter":"datum.t=='end'"}],"mark":{"type":"text","font":"Liberation Sans","fontWeight":"bold","fontSize":24.5,"angle":270,"align":"left","baseline":"middle","color":"#2b2b2b","stroke":"#2b2b2b","strokeWidth":0.6},"encoding":{"text":{"field":"s"}}},
{"transform":[{"filter":"indexof(['fork','bin','mv','kom','start','finish','badge'],datum.t)>=0"}],"mark":{"type":"point","shape":"circle","filled":true,"opacity":1,"strokeWidth":0},"encoding":{"color":{"field":"t","type":"nominal","legend":null,"scale":{"domain":["fork","bin","mv","kom","start","finish","badge"],"range":["#FF964B","#FFDE59","#009E49","#0A6FBF","#009E49","#009E49","#0A6FBF"]}},"size":{"field":"t","type":"nominal","legend":null,"scale":{"type":"ordinal","domain":["fork","bin","mv","kom","start","finish","badge"],"range":[1521,1521,1936,1936,3136,3136,340]}}}},
{"transform":[{"filter":"datum.t=='fork'"}],"mark":{"type":"point","size":1521,"opacity":1,"filled":true,"strokeWidth":0,"color":"#222222","shape":"M-.38,-.62 L-.33,-.62 L-.33,-.25 L-.27,-.25 L-.27,-.62 L-.22,-.62 L-.22,-.25 L-.16,-.25 L-.16,-.62 L-.11,-.62 L-.06,-.62 L-.06,-.1 Q-.1,0 -.14,.02 L-.14,.67 L-.28,.67 L-.28,.02 Q-.38,0 -.38,-.1 Z M.12,.67 L.12,-.62 Q.32,-.45 .32,0 L.24,.05 L.24,.67 Z"}},
{"transform":[{"filter":"datum.t=='bin'"}],"mark":{"type":"point","size":1521,"opacity":1,"filled":false,"strokeWidth":1.2,"color":"#222222","shape":"M-.5,-.38 L.5,-.38 L.5,-.25 L-.5,-.25 Z M-.2,-.38 L-.2,-.52 L.2,-.52 L.2,-.38 M-.4,-.25 L-.3,.55 L.3,.55 L.4,-.25 M-.14,-.08 L-.1,.38 M0,-.08 L0,.38 M.14,-.08 L.1,.38"}},
{"transform":[{"filter":"datum.t=='kom'"}],"mark":{"type":"point","size":1936,"opacity":1,"filled":true,"strokeWidth":0,"color":"#ffffff","shape":"M-.7,.45 L-.02,-.62 L.22,-.25 L.3,-.05 L.38,-.05 L.7,.45 Z"}},
{"transform":[{"filter":"datum.t=='start'"}],"mark":{"type":"point","size":3136,"opacity":1,"filled":true,"strokeWidth":0,"color":"#ffffff","shape":"M-.32,-.55 L.55,0 L-.32,.55 Z"}},
{"transform":[{"filter":"datum.t=='finish'"}],"mark":{"type":"point","size":3136,"opacity":1,"filled":true,"strokeWidth":0,"color":"#ffffff","shape":"M-.18,-.49 L.08,-.49 L.02,-.245 L-.24,-.245 Z M.34,-.49 L.6,-.49 L.54,-.245 L.28,-.245 Z M-.56,-.245 L-.3,-.245 L-.36,0 L-.62,0 Z M-.04,-.245 L.22,-.245 L.16,0 L-.1,0 Z M.48,-.245 L.74,-.245 L.68,0 L.42,0 Z M-.42,0 L-.16,0 L-.22,.245 L-.48,.245 Z M.1,0 L.36,0 L.3,.245 L.04,.245 Z M-.28,.245 L-.02,.245 L-.08,.49 L-.34,.49 Z M.24,.245 L.5,.245 L.44,.49 L.18,.49 Z"}},
{"transform":[{"filter":"datum.t=='mv'"}],"mark":{"type":"text","text":"MV","font":"Roboto Condensed","fontWeight":"bold","fontSize":21,"dy":-2,"color":"#ffffff"}},
{"transform":[{"filter":"datum.t=='badge'"}],"mark":{"type":"text","font":"Roboto Condensed","fontWeight":"bold","fontSize":12,"color":"#ffffff"},"encoding":{"text":{"field":"s"}}}
]}
]}
